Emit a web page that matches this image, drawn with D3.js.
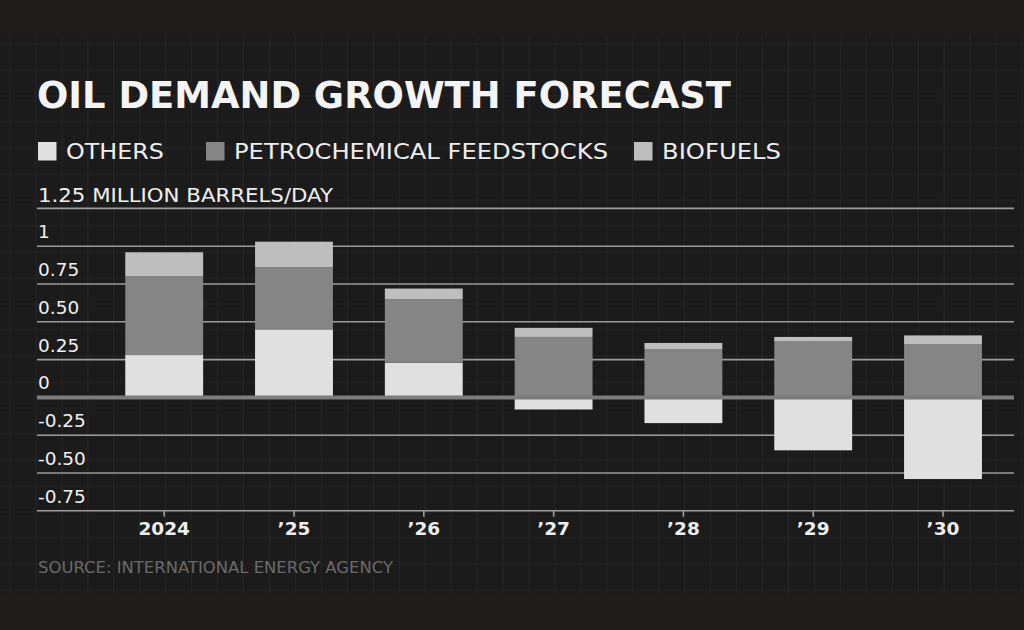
<!DOCTYPE html>
<html><head><meta charset="utf-8">
<script src="https://cdn.jsdelivr.net/npm/d3@7"></script>
<style>
html,body{margin:0;padding:0;background:#1b1b1b;}
svg{display:block;}
</style></head>
<body><svg id="c" width="1024" height="630"></svg>
<script>
const years = ["2024", "\u201925", "\u201926", "\u201927", "\u201928", "\u201929", "\u201930"];
const others = [0.28, 0.45, 0.23, -0.08, -0.17, -0.35, -0.54];
const petrochemical = [0.52, 0.41, 0.42, 0.40, 0.32, 0.37, 0.35];
const biofuels = [0.16, 0.17, 0.07, 0.06, 0.04, 0.03, 0.06];
const yTicks = [1.25, 1, 0.75, 0.5, 0.25, 0, -0.25, -0.5, -0.75];
const yTickLabels = ["1.25 MILLION BARRELS/DAY", "1", "0.75", "0.50", "0.25", "0", "-0.25", "-0.50", "-0.75"];
const seriesNames = ["OTHERS", "PETROCHEMICAL FEEDSTOCKS", "BIOFUELS"];
const seriesColors = ["#e0e0e0", "#858585", "#bebebe"];

const svg = d3.select("#c");
const W = 1024, H = 630;
const FONT = "'DejaVu Sans', sans-serif";

// background
svg.append("rect").attr("width", W).attr("height", H).attr("fill", "#1b1b1b");
const bgGrid = svg.append("g").attr("stroke", "#272727").attr("stroke-width", 1);
d3.range(10, W, 25.95).forEach(x => bgGrid.append("line").attr("x1", x).attr("x2", x).attr("y1", 36).attr("y2", 593));
d3.range(44, 593, 26).forEach(y => bgGrid.append("line").attr("x1", 0).attr("x2", W).attr("y1", y).attr("y2", y));
svg.append("rect").attr("x", 0).attr("y", 0).attr("width", W).attr("height", 36).attr("fill", "#1f1b1a");
svg.append("rect").attr("x", 0).attr("y", 593).attr("width", W).attr("height", 37).attr("fill", "#201c1b");

// scales
const y = d3.scaleLinear().domain([-0.75, 1.25]).range([510.8, 208.4]);
const x = d3.scaleBand().domain(years).range([99.3, 1007.9]).paddingInner(0.4).paddingOuter(0.2);
const gridX0 = 37, gridX1 = 1014;

// gridlines
const grid = svg.append("g");
grid.selectAll("line").data(yTicks.filter(v => v !== 0)).join("line")
  .attr("x1", gridX0).attr("x2", gridX1)
  .attr("y1", d => y(d)).attr("y2", d => y(d))
  .attr("stroke", "#9c9c9c").attr("stroke-width", 1.6);

// y labels
svg.append("g").selectAll("text").data(yTicks).join("text")
  .attr("x", 38).attr("y", d => y(d) - (d === 1.25 ? 6.5 : 8))
  .attr("fill", "#f0f0f0").attr("font-family", FONT)
  .attr("font-size", (d) => d === 1.25 ? 20 : 18.5)
  .each(function(d, i) {
    if (d === 1.25) d3.select(this).attr("textLength", 295).attr("lengthAdjust", "spacingAndGlyphs");
  })
  .text((d, i) => yTickLabels[i]);

// stacked bars
const rows = years.map((yr, i) => ({year: yr, others: others[i], petro: petrochemical[i], bio: biofuels[i]}));
const bars = svg.append("g");
rows.forEach(r => {
  const segs = [];
  let pos = 0, neg = 0;
  [["others", 0], ["petro", 1], ["bio", 2]].forEach(([k, ci]) => {
    const v = r[k];
    if (v >= 0) { segs.push({y0: pos, y1: pos + v, c: seriesColors[ci]}); pos += v; }
    else { segs.push({y0: neg + v, y1: neg, c: seriesColors[ci]}); neg += v; }
  });
  bars.selectAll(null).data(segs).join("rect")
    .attr("x", x(r.year)).attr("width", x.bandwidth())
    .attr("y", d => y(d.y1)).attr("height", d => y(d.y0) - y(d.y1))
    .attr("fill", d => d.c);
});

// zero line
svg.append("line").attr("x1", gridX0).attr("x2", gridX1)
  .attr("y1", y(0)).attr("y2", y(0))
  .attr("stroke", "#7d7d7d").attr("stroke-width", 4);

// x axis
const xAxis = d3.axisBottom(x).tickSize(6).tickSizeOuter(0).tickPadding(5);
const gx = svg.append("g").attr("transform", `translate(0,${y(-0.75)})`).call(xAxis);
gx.select(".domain").remove();
gx.selectAll(".tick line").attr("stroke", "#9c9c9c").attr("stroke-width", 1.6);
gx.selectAll(".tick text").attr("fill", "#eeeeee").attr("font-family", FONT)
  .attr("font-size", 18.5).attr("font-weight", "bold");

// title
svg.append("text").attr("x", 37).attr("y", 108)
  .attr("fill", "#f4f4f4").attr("font-family", FONT).attr("font-weight", "bold")
  .attr("font-size", 38).attr("textLength", 694).attr("lengthAdjust", "spacingAndGlyphs")
  .text("OIL DEMAND GROWTH FORECAST");

// legend
const legendX = [38, 206, 634];
const legendW = [98, 374, 119];
const lg = svg.append("g");
seriesNames.forEach((n, i) => {
  lg.append("rect").attr("x", legendX[i]).attr("y", 142).attr("width", 18.5).attr("height", 18.5).attr("fill", seriesColors[i]);
  lg.append("text").attr("x", legendX[i] + 28).attr("y", 159)
    .attr("fill", "#eeeeee").attr("font-family", FONT).attr("font-size", 21)
    .attr("textLength", legendW[i]).attr("lengthAdjust", "spacingAndGlyphs")
    .text(n);
});

// source
svg.append("text").attr("x", 38).attr("y", 573)
  .attr("fill", "#6a6a6a").attr("font-family", FONT).attr("font-size", 15.5)
  .attr("textLength", 355).attr("lengthAdjust", "spacingAndGlyphs")
  .text("SOURCE: INTERNATIONAL ENERGY AGENCY");
</script>
</body></html>
